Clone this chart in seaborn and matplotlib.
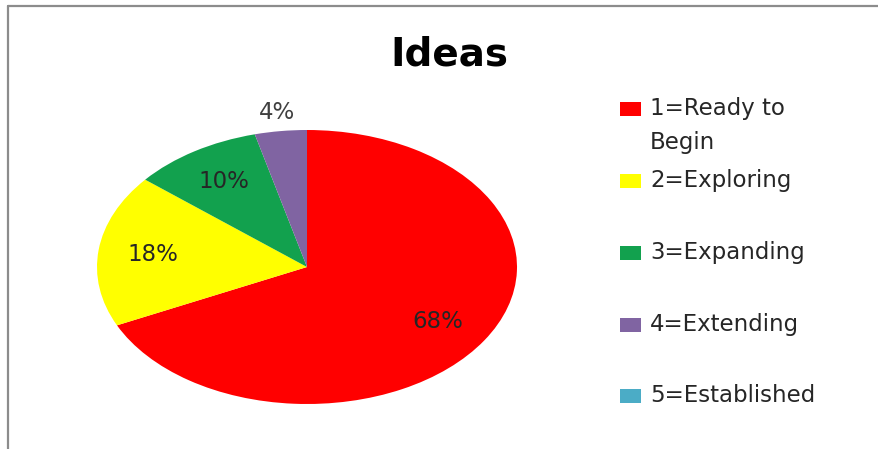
import numpy as np
import matplotlib
matplotlib.use("Agg")
import matplotlib.pyplot as plt
from matplotlib.patches import Rectangle
from matplotlib.lines import Line2D
import seaborn as sns

# ---- data ----
title = "Ideas"
categories = ["1=Ready to\nBegin", "2=Exploring", "3=Expanding", "4=Extending", "5=Established"]
values = [68, 18, 10, 4, 0]
colors = ["#FF0000", "#FFFF00", "#12A14E", "#8064A2", "#4BACC6"]

sns.set_theme(style="white")
plt.rcParams["font.family"] = ["DejaVu Sans"]

W, H = 879, 449
fig = plt.figure(figsize=(W / 100, H / 100), dpi=100)
fig.patch.set_facecolor("white")

# chart frame (gray border, runs off right/bottom)
fig.add_artist(Line2D([8 / W, 8 / W], [0, 1 - 6 / H], color="#8c8c8c", lw=1.6,
                      transform=fig.transFigure))
fig.add_artist(Line2D([8 / W, 1], [1 - 6 / H, 1 - 6 / H], color="#8c8c8c", lw=1.6,
                      transform=fig.transFigure))

# pie axes (stretched ellipse like reference)
cx, cy, rx, ry = 307, 267, 210, 137
ax = fig.add_axes([(cx - rx) / W, 1 - (cy + ry) / H, 2 * rx / W, 2 * ry / H])

pie_vals = [v for v in values if v > 0]
pie_cols = [c for v, c in zip(values, colors) if v > 0]
wedges, texts, autotexts = ax.pie(
    pie_vals, colors=pie_cols, startangle=90, counterclock=False,
    autopct="%.0f%%", pctdistance=0.74,
    wedgeprops=dict(linewidth=0),
    textprops=dict(fontsize=16.5, color="#262626"),
)
ax.set_aspect("auto")
ax.set_xlim(-1, 1)
ax.set_ylim(-1, 1)
ax.axis("off")

for w, t, v in zip(wedges, autotexts, pie_vals):
    if v < 5:
        ang = np.deg2rad((w.theta1 + w.theta2) / 2)
        t.set_position((1.14 * np.cos(ang), 1.14 * np.sin(ang)))
        t.set_color("#404040")

# title
fig.text(449 / W, 1 - 55 / H, title, ha="center", va="center",
         fontsize=28, fontweight="bold", color="black")

# legend (drawn manually to match Excel layout)
leg_y = [109, 181, 253, 325, 396]
for lab, col, yy in zip(categories, colors, leg_y):
    fig.add_artist(Rectangle((620 / W, 1 - (yy + 7) / H), 21 / W, 14 / H,
                             transform=fig.transFigure, facecolor=col,
                             edgecolor="none"))
    if "\n" in lab:
        fig.text(650 / W, 1 - (yy - 12) / H, lab, ha="left", va="top",
                 fontsize=16.5, color="#262626", linespacing=1.6)
    else:
        fig.text(650 / W, 1 - yy / H, lab, ha="left", va="center",
                 fontsize=16.5, color="#262626")

fig.savefig("out.png", dpi=100, facecolor="white")
